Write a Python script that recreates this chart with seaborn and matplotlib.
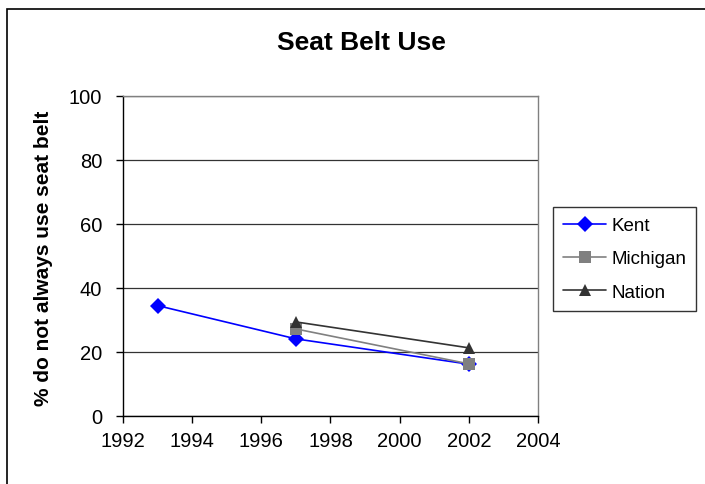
import pandas as pd
import matplotlib.pyplot as plt
import seaborn as sns
from matplotlib.patches import Rectangle

# data
kent_years = [1993, 1997, 2002]
kent_vals = [34.5, 24.1, 16.2]
mich_years = [1997, 2002]
mich_vals = [27.2, 16.3]
nation_years = [1997, 2002]
nation_vals = [29.4, 21.3]

series = ['Kent', 'Michigan', 'Nation']
colors = {'Kent': '#0000FF', 'Michigan': '#808080', 'Nation': '#333333'}
markers = {'Kent': 'D', 'Michigan': 's', 'Nation': '^'}

df = pd.concat([
    pd.DataFrame({'year': kent_years, 'pct': kent_vals, 'area': 'Kent'}),
    pd.DataFrame({'year': mich_years, 'pct': mich_vals, 'area': 'Michigan'}),
    pd.DataFrame({'year': nation_years, 'pct': nation_vals, 'area': 'Nation'}),
])

sns.set_style('white', {'text.color': 'black', 'xtick.color': 'black',
                        'ytick.color': 'black', 'axes.labelcolor': 'black'})
plt.rcParams['font.family'] = ['Liberation Sans', 'DejaVu Sans']

fig = plt.figure(figsize=(7.05, 4.85), dpi=100)
ax = fig.add_axes([123/705, 1 - 417/485, (538-123)/705, (417-97)/485])

sns.lineplot(data=df, x='year', y='pct', hue='area', style='area',
             hue_order=series, style_order=series, palette=colors,
             markers=markers, dashes=False, markersize=8.5, linewidth=1.2,
             markeredgewidth=0, ax=ax, legend=True)

ax.set_xlim(1992, 2004)
ax.set_ylim(0, 100)
ax.set_xticks(range(1992, 2005, 2))
ax.set_yticks(range(0, 101, 20))
ax.tick_params(axis='both', labelsize=14.5, length=5, width=1, direction='out',
               bottom=True, left=True, color='black')
ax.tick_params(axis='y', pad=10)
ax.tick_params(axis='x', pad=6)
ax.yaxis.grid(True, color='#333333', linewidth=0.9)
ax.set_axisbelow(True)
for s in ['top', 'right']:
    ax.spines[s].set_color('#808080')
    ax.spines[s].set_linewidth(1)
for s in ['left', 'bottom']:
    ax.spines[s].set_color('black')
    ax.spines[s].set_linewidth(1)

ax.set_xlabel('')
ax.set_ylabel('')
fig.text(44/705, 1 - 258/485, '% do not always use seat belt', rotation=90,
         ha='center', va='center', fontsize=15, fontweight='bold')
fig.text(361/705, 1 - 43.5/485, 'Seat Belt Use', ha='center', va='center',
         fontsize=19, fontweight='bold')

leg = ax.legend(loc='upper left', bbox_to_anchor=(553/705, 1 - 208/485),
                bbox_transform=fig.transFigure, frameon=True, fancybox=False,
                fontsize=13.5, handlelength=2.3, handletextpad=0.25,
                borderpad=0.55, borderaxespad=0, labelspacing=0.85)
leg.get_frame().set_edgecolor('black')
leg.get_frame().set_linewidth(1)

fig.patches.append(Rectangle((7/705, -0.01), 1.0, 1 - 10/485 + 0.01,
                             transform=fig.transFigure, fill=False,
                             edgecolor='black', linewidth=1.2))

fig.savefig('out.png', dpi=100)
